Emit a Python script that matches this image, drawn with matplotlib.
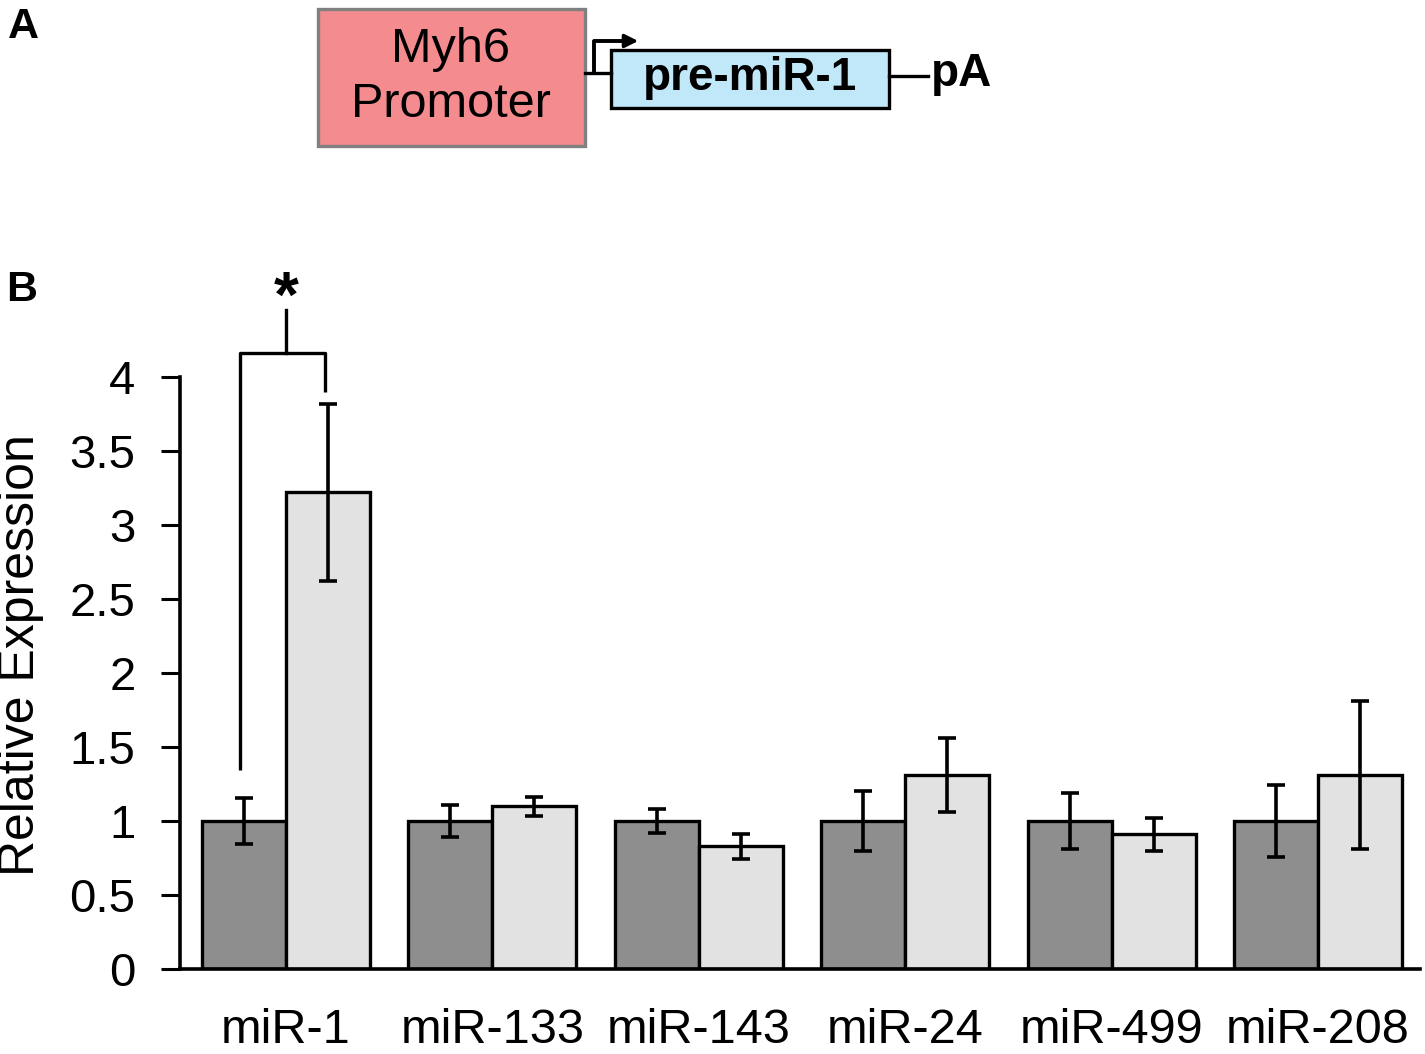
import matplotlib
matplotlib.use("Agg")
import matplotlib.pyplot as plt
from matplotlib.patches import Rectangle
import numpy as np

plt.rcParams['font.family'] = ['Liberation Sans', 'DejaVu Sans']

# donnees
mirnas = ['miR-1', 'miR-133', 'miR-143', 'miR-24', 'miR-499', 'miR-208']
ctrl_vals = [1.0, 1.0, 1.0, 1.0, 1.0, 1.0]
ctrl_err = [0.155, 0.11, 0.08, 0.20, 0.19, 0.245]
tg_vals = [3.22, 1.10, 0.83, 1.31, 0.91, 1.31]
tg_err = [0.60, 0.065, 0.085, 0.25, 0.11, 0.50]
yticks = [0, 0.5, 1, 1.5, 2, 2.5, 3, 3.5, 4]

W, H = 1425, 1054
fig = plt.figure(figsize=(W / 100, H / 100), dpi=100)

# panneau B : histogramme
ax = fig.add_axes([180 / W, 1 - 969 / H, 1240 / W, (969 - 377) / H])
x = np.arange(len(mirnas))
larg = 0.407
err_kw = dict(ecolor='black', elinewidth=2.6, capsize=6.5, capthick=2.6)
ax.bar(x - larg / 2, ctrl_vals, larg, yerr=ctrl_err, color='#8e8e8e',
       edgecolor='black', linewidth=2.4, error_kw=err_kw, zorder=2)
ax.bar(x + larg / 2, tg_vals, larg, yerr=tg_err, color='#e1e2e1',
       edgecolor='black', linewidth=2.4, error_kw=err_kw, zorder=2)

ax.set_xlim(-0.514, 5.494)
ax.set_ylim(0, 4)
ax.set_yticks(yticks)
ax.set_yticklabels([f"{t:g}" for t in yticks])
ax.set_xticks(x)
ax.set_xticklabels(mirnas)
ax.tick_params(axis='y', length=14, width=2.2, labelsize=34, pad=18)
ax.tick_params(axis='x', length=0, labelsize=35, pad=28)
ax.set_ylabel('Relative Expression', fontsize=36)
ax.yaxis.set_label_coords(-0.11, 0.53)
for s in ['top', 'right']:
    ax.spines[s].set_visible(False)
for s in ['left', 'bottom']:
    ax.spines[s].set_linewidth(2.6)

# crochet de significativite
bx = [-0.223, -0.223, 0.189, 0.189]
by = [1.345, 4.16, 4.16, 3.90]
ax.plot(bx, by, color='black', lw=2.4, clip_on=False, solid_capstyle='butt')
ax.plot([0.0, 0.0], [4.16, 4.45], color='black', lw=2.4, clip_on=False)
ax.text(0.0, 4.52, '*', fontsize=46, fontweight='bold', ha='center',
        va='center', clip_on=False)

# panneau A : schema de la construction
ov = fig.add_axes([0, 0, 1, 1], facecolor='none')
ov.set_xlim(0, W)
ov.set_ylim(H, 0)
ov.axis('off')

ov.text(8, 27, 'A', fontsize=31, fontweight='bold', va='center')
ov.text(6, 290, 'B', fontsize=31, fontweight='bold', va='center')

ov.add_patch(Rectangle((318, 9), 267, 137, facecolor='#f48c8f',
                       edgecolor='#808080', lw=2.4))
ov.text(451, 77, 'Myh6\nPromoter', fontsize=35, ha='center', va='center',
        linespacing=1.3)

ov.add_patch(Rectangle((611, 50), 278, 58, facecolor='#c1e8f8',
                       edgecolor='black', lw=2.4))
ov.text(750, 78, 'pre-miR-1', fontsize=33, fontweight='bold', ha='center',
        va='center')

ov.plot([585, 611], [73, 73], color='black', lw=2.4)
ov.plot([594, 594, 628], [73, 41, 41], color='black', lw=2.8)
ov.annotate('', xy=(641, 41), xytext=(622, 41),
            arrowprops=dict(arrowstyle='-|>', color='black', lw=2.4,
                            mutation_scale=20))
ov.plot([889, 928], [76, 76], color='black', lw=2.4)
ov.text(931, 74, 'pA', fontsize=33, fontweight='bold', ha='left', va='center')

fig.savefig('out.png', dpi=100)
